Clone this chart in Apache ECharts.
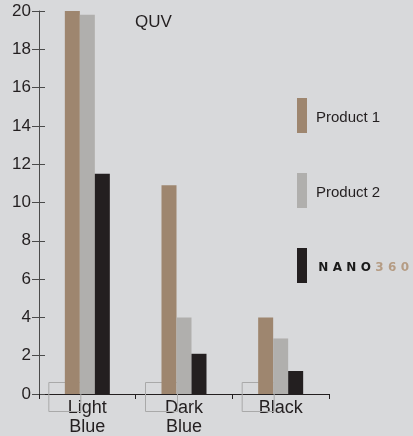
<!DOCTYPE html>
<html>
<head>
<meta charset="utf-8">
<script src="https://cdn.jsdelivr.net/npm/echarts@6/dist/echarts.min.js"></script>
<style>
html,body{margin:0;padding:0;background:#d8d9db;}
#c{width:413px;height:436px;}
</style>
</head>
<body>
<div id="c"></div>
<script>
const categories = ['Light\nBlue', 'Dark\nBlue', 'Black'];
const product1 = [20.0, 10.9, 4.0];
const product2 = [19.8, 4.0, 2.9];
const nano360 = [11.5, 2.1, 1.2];
const seriesNames = ['Product 1', 'Product 2', 'NANO360'];
const yTicks = [0, 2, 4, 6, 8, 10, 12, 14, 16, 18, 20];

const FONT = '"Liberation Sans", Arial, sans-serif';
const chart = echarts.init(document.getElementById('c'));

const logoChar = {fontFamily: '"DejaVu Sans", sans-serif', fontWeight: 'bold', fontSize: 12, padding: [0, 2.2, 0, 2.2]};
function logo(name) {
  if (name !== 'NANO360') return name;
  return name.split('').map((ch, i) => '{' + (i < 4 ? 'n' : 't') + '|' + ch + '}').join('');
}

chart.setOption({
  backgroundColor: '#d8d9db',
  animation: false,
  title: {
    text: 'QUV', left: 135, top: 14, padding: 0,
    textStyle: {fontFamily: FONT, fontSize: 17, fontWeight: 'normal', color: '#231f20'}
  },
  legend: {
    data: seriesNames,
    orient: 'vertical', left: 297, top: 98, padding: 0,
    itemWidth: 10, itemHeight: 35, itemGap: 40,
    icon: 'rect',
    formatter: logo,
    textStyle: {
      fontFamily: FONT, fontSize: 15, color: '#231f20', padding: [5, 0, 0, 4],
      rich: {
        n: Object.assign({color: '#1a1a1a'}, logoChar),
        t: Object.assign({color: '#b59c84'}, logoChar)
      }
    }
  },
  grid: {left: 39, right: 84, top: 11, bottom: 42, containLabel: false, outerBoundsMode: 'none'},
  xAxis: {
    type: 'category', data: categories,
    axisLine: {lineStyle: {color: '#231f20', width: 1}},
    axisTick: {show: true, length: 5, lineStyle: {color: '#231f20'}},
    axisLabel: {fontFamily: FONT, fontSize: 18, color: '#231f20', margin: 5, lineHeight: 19}
  },
  yAxis: [{
    type: 'value', min: 0, max: 20, interval: 2,
    axisLine: {show: true, lineStyle: {color: '#4a4a4a', width: 1}},
    axisTick: {show: true, length: 7, lineStyle: {color: '#4a4a4a'}},
    axisLabel: {fontFamily: FONT, fontSize: 17, color: '#231f20', margin: 8,
      formatter: v => yTicks.indexOf(v) >= 0 ? String(v) : ''},
    splitLine: {show: false}
  }, {
    type: 'value', min: 0, max: 20, interval: 2, position: 'left',
    axisLine: {show: false},
    axisTick: {show: true, inside: true, length: 6, lineStyle: {color: '#4a4a4a'}},
    axisLabel: {show: false},
    splitLine: {show: false}
  }],
  series: [{
    type: 'custom',
    silent: true,
    z: 1,
    data: categories.map((c, i) => [i, 0]),
    renderItem: function (params, api) {
      const p = api.coord([api.value(0), 0]);
      return {
        type: 'rect',
        shape: {x: p[0] - 38.5, y: p[1] - 11.5, width: 32, height: 29},
        style: {fill: null, stroke: '#a9a9a9', lineWidth: 1}
      };
    }
  }, {
    name: seriesNames[0], type: 'bar', data: product1, barWidth: 15, barGap: '0%',
    itemStyle: {color: '#9e866f'}, z: 2
  }, {
    name: seriesNames[1], type: 'bar', data: product2, barWidth: 15, barGap: '0%',
    itemStyle: {color: '#b0afad'}, z: 2
  }, {
    name: seriesNames[2], type: 'bar', data: nano360, barWidth: 15, barGap: '0%',
    itemStyle: {color: '#231f20'}, z: 2
  }]
});
</script>
</body>
</html>
